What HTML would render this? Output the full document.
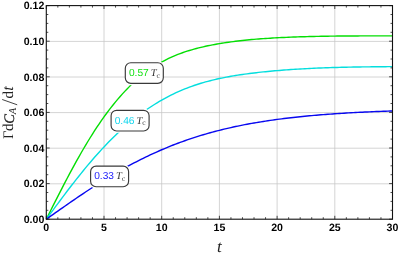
<!DOCTYPE html>
<html><head><meta charset="utf-8"><style>html,body{margin:0;padding:0;background:#fff;}body{width:399px;height:258px;overflow:hidden;}svg{display:block;will-change:transform;opacity:0.999;}text{font-family:"Liberation Sans",sans-serif;text-rendering:geometricPrecision;}.s{font-family:"Liberation Serif",serif;}</style></head><body>
<svg width="399" height="258" viewBox="0 0 399 258">
<rect width="399" height="258" fill="#fff"/>
<path d="M104.00 5.6V219.2M161.70 5.6V219.2M219.40 5.6V219.2M277.10 5.6V219.2M334.80 5.6V219.2M46.3 183.80H392.5M46.3 148.20H392.5M46.3 112.60H392.5M46.3 77.00H392.5M46.3 41.40H392.5" stroke="#c6c6c6" stroke-width="0.75" fill="none"/>
<defs><mask id="m" maskUnits="userSpaceOnUse" x="0" y="0" width="399" height="258"><rect width="399" height="258" fill="#fff"/><rect x="125.30" y="62.75" width="38" height="20.6" rx="5.5" ry="5.5" fill="#000" stroke="#000" stroke-width="3.6"/><rect x="111.10" y="110.35" width="38" height="20.6" rx="5.5" ry="5.5" fill="#000" stroke="#000" stroke-width="3.6"/><rect x="90.60" y="166.15" width="38" height="20.6" rx="5.5" ry="5.5" fill="#000" stroke="#000" stroke-width="3.6"/></mask></defs><g mask="url(#m)">
<polyline points="46.30,219.20 48.61,214.60 50.92,210.01 53.22,205.43 55.53,200.87 57.84,196.33 60.15,191.81 62.46,187.33 64.76,182.89 67.07,178.49 69.38,174.14 71.69,169.84 74.00,165.60 76.30,161.41 78.61,157.29 80.92,153.24 83.23,149.26 85.54,145.35 87.84,141.51 90.15,137.75 92.46,134.08 94.77,130.48 97.08,126.96 99.38,123.53 101.69,120.18 104.00,116.92 106.31,113.74 108.62,110.65 110.92,107.64 113.23,104.72 115.54,101.88 117.85,99.13 120.16,96.46 122.46,93.88 124.77,91.38 127.08,88.96 129.39,86.63 131.70,84.37 134.00,82.20 136.31,80.11 138.62,78.10 140.93,76.16 143.24,74.30 145.54,72.52 147.85,70.80 150.16,69.17 152.47,67.60 154.78,66.10 157.08,64.67 159.39,63.30 161.70,62.00 164.01,60.76 166.32,59.57 168.62,58.45 170.93,57.38 173.24,56.36 175.55,55.39 177.86,54.46 180.16,53.59 182.47,52.75 184.78,51.96 187.09,51.20 189.40,50.48 191.70,49.80 194.01,49.14 196.32,48.52 198.63,47.92 200.94,47.36 203.24,46.81 205.55,46.29 207.86,45.80 210.17,45.32 212.48,44.87 214.78,44.44 217.09,44.02 219.40,43.62 221.71,43.24 224.02,42.88 226.32,42.53 228.63,42.19 230.94,41.87 233.25,41.57 235.56,41.28 237.86,41.00 240.17,40.73 242.48,40.47 244.79,40.23 247.10,40.00 249.40,39.77 251.71,39.56 254.02,39.36 256.33,39.16 258.64,38.98 260.94,38.80 263.25,38.64 265.56,38.48 267.87,38.33 270.18,38.18 272.48,38.04 274.79,37.91 277.10,37.79 279.41,37.67 281.72,37.55 284.02,37.45 286.33,37.34 288.64,37.25 290.95,37.15 293.26,37.06 295.56,36.98 297.87,36.90 300.18,36.82 302.49,36.75 304.80,36.68 307.10,36.62 309.41,36.55 311.72,36.49 314.03,36.44 316.34,36.39 318.64,36.34 320.95,36.30 323.26,36.26 325.57,36.22 327.88,36.18 330.18,36.15 332.49,36.12 334.80,36.09 337.11,36.07 339.42,36.05 341.72,36.02 344.03,36.01 346.34,35.99 348.65,35.97 350.96,35.96 353.26,35.95 355.57,35.93 357.88,35.93 360.19,35.92 362.50,35.91 364.80,35.90 367.11,35.90 369.42,35.90 371.73,35.90 374.04,35.89 376.34,35.89 378.65,35.90 380.96,35.90 383.27,35.90 385.58,35.90 387.88,35.91 390.19,35.91 392.50,35.92" stroke="#04de04" stroke-width="1.4" fill="none" stroke-linejoin="round"/>
<polyline points="46.30,219.20 48.61,216.06 50.92,212.93 53.22,209.81 55.53,206.69 57.84,203.58 60.15,200.48 62.46,197.40 64.76,194.34 67.07,191.29 69.38,188.27 71.69,185.28 74.00,182.31 76.30,179.37 78.61,176.46 80.92,173.58 83.23,170.74 85.54,167.93 87.84,165.16 90.15,162.43 92.46,159.73 94.77,157.08 97.08,154.48 99.38,151.91 101.69,149.39 104.00,146.92 106.31,144.49 108.62,142.11 110.92,139.77 113.23,137.48 115.54,135.24 117.85,133.04 120.16,130.90 122.46,128.80 124.77,126.75 127.08,124.74 129.39,122.78 131.70,120.87 134.00,119.01 136.31,117.19 138.62,115.41 140.93,113.69 143.24,112.01 145.54,110.37 147.85,108.78 150.16,107.23 152.47,105.72 154.78,104.26 157.08,102.84 159.39,101.46 161.70,100.13 164.01,98.83 166.32,97.58 168.62,96.37 170.93,95.19 173.24,94.06 175.55,92.96 177.86,91.91 180.16,90.89 182.47,89.91 184.78,88.96 187.09,88.05 189.40,87.17 191.70,86.33 194.01,85.52 196.32,84.75 198.63,84.00 200.94,83.29 203.24,82.60 205.55,81.95 207.86,81.32 210.17,80.71 212.48,80.14 214.78,79.58 217.09,79.05 219.40,78.55 221.71,78.06 224.02,77.59 226.32,77.14 228.63,76.72 230.94,76.30 233.25,75.91 235.56,75.53 237.86,75.16 240.17,74.81 242.48,74.47 244.79,74.14 247.10,73.83 249.40,73.53 251.71,73.23 254.02,72.95 256.33,72.68 258.64,72.42 260.94,72.17 263.25,71.92 265.56,71.68 267.87,71.46 270.18,71.24 272.48,71.02 274.79,70.82 277.10,70.62 279.41,70.43 281.72,70.24 284.02,70.06 286.33,69.89 288.64,69.73 290.95,69.57 293.26,69.41 295.56,69.26 297.87,69.12 300.18,68.98 302.49,68.85 304.80,68.72 307.10,68.60 309.41,68.48 311.72,68.37 314.03,68.26 316.34,68.16 318.64,68.06 320.95,67.97 323.26,67.88 325.57,67.80 327.88,67.72 330.18,67.64 332.49,67.57 334.80,67.50 337.11,67.44 339.42,67.38 341.72,67.32 344.03,67.26 346.34,67.21 348.65,67.16 350.96,67.12 353.26,67.07 355.57,67.03 357.88,66.99 360.19,66.96 362.50,66.92 364.80,66.89 367.11,66.86 369.42,66.83 371.73,66.81 374.04,66.78 376.34,66.76 378.65,66.74 380.96,66.72 383.27,66.70 385.58,66.69 387.88,66.67 390.19,66.66 392.50,66.65" stroke="#04dede" stroke-width="1.4" fill="none" stroke-linejoin="round"/>
<polyline points="46.30,219.20 48.61,217.57 50.92,215.94 53.22,214.31 55.53,212.68 57.84,211.06 60.15,209.44 62.46,207.82 64.76,206.21 67.07,204.61 69.38,203.01 71.69,201.42 74.00,199.83 76.30,198.25 78.61,196.69 80.92,195.13 83.23,193.58 85.54,192.04 87.84,190.51 90.15,189.00 92.46,187.49 94.77,186.00 97.08,184.52 99.38,183.06 101.69,181.61 104.00,180.17 106.31,178.75 108.62,177.35 110.92,175.95 113.23,174.58 115.54,173.22 117.85,171.88 120.16,170.55 122.46,169.25 124.77,167.95 127.08,166.68 129.39,165.42 131.70,164.19 134.00,162.97 136.31,161.76 138.62,160.58 140.93,159.41 143.24,158.27 145.54,157.14 147.85,156.03 150.16,154.93 152.47,153.86 154.78,152.80 157.08,151.77 159.39,150.75 161.70,149.75 164.01,148.77 166.32,147.80 168.62,146.86 170.93,145.93 173.24,145.02 175.55,144.13 177.86,143.25 180.16,142.39 182.47,141.55 184.78,140.73 187.09,139.93 189.40,139.14 191.70,138.36 194.01,137.61 196.32,136.87 198.63,136.14 200.94,135.44 203.24,134.74 205.55,134.07 207.86,133.40 210.17,132.76 212.48,132.12 214.78,131.51 217.09,130.90 219.40,130.31 221.71,129.74 224.02,129.17 226.32,128.62 228.63,128.09 230.94,127.56 233.25,127.05 235.56,126.55 237.86,126.07 240.17,125.59 242.48,125.13 244.79,124.68 247.10,124.24 249.40,123.81 251.71,123.39 254.02,122.98 256.33,122.58 258.64,122.20 260.94,121.82 263.25,121.45 265.56,121.09 267.87,120.74 270.18,120.40 272.48,120.07 274.79,119.74 277.10,119.43 279.41,119.12 281.72,118.82 284.02,118.53 286.33,118.25 288.64,117.97 290.95,117.71 293.26,117.45 295.56,117.19 297.87,116.94 300.18,116.70 302.49,116.47 304.80,116.24 307.10,116.02 309.41,115.80 311.72,115.59 314.03,115.39 316.34,115.19 318.64,115.00 320.95,114.81 323.26,114.62 325.57,114.45 327.88,114.27 330.18,114.10 332.49,113.94 334.80,113.78 337.11,113.63 339.42,113.48 341.72,113.33 344.03,113.19 346.34,113.05 348.65,112.91 350.96,112.78 353.26,112.66 355.57,112.53 357.88,112.41 360.19,112.30 362.50,112.18 364.80,112.07 367.11,111.96 369.42,111.86 371.73,111.76 374.04,111.66 376.34,111.56 378.65,111.47 380.96,111.38 383.27,111.29 385.58,111.21 387.88,111.12 390.19,111.04 392.50,110.96" stroke="#0808f0" stroke-width="1.4" fill="none" stroke-linejoin="round"/>
</g>
<path d="M46.30 219.2v-3.4M46.30 5.6v3.4M57.84 219.2v-2.0M57.84 5.6v2.0M69.38 219.2v-2.0M69.38 5.6v2.0M80.92 219.2v-2.0M80.92 5.6v2.0M92.46 219.2v-2.0M92.46 5.6v2.0M104.00 219.2v-3.4M104.00 5.6v3.4M115.54 219.2v-2.0M115.54 5.6v2.0M127.08 219.2v-2.0M127.08 5.6v2.0M138.62 219.2v-2.0M138.62 5.6v2.0M150.16 219.2v-2.0M150.16 5.6v2.0M161.70 219.2v-3.4M161.70 5.6v3.4M173.24 219.2v-2.0M173.24 5.6v2.0M184.78 219.2v-2.0M184.78 5.6v2.0M196.32 219.2v-2.0M196.32 5.6v2.0M207.86 219.2v-2.0M207.86 5.6v2.0M219.40 219.2v-3.4M219.40 5.6v3.4M230.94 219.2v-2.0M230.94 5.6v2.0M242.48 219.2v-2.0M242.48 5.6v2.0M254.02 219.2v-2.0M254.02 5.6v2.0M265.56 219.2v-2.0M265.56 5.6v2.0M277.10 219.2v-3.4M277.10 5.6v3.4M288.64 219.2v-2.0M288.64 5.6v2.0M300.18 219.2v-2.0M300.18 5.6v2.0M311.72 219.2v-2.0M311.72 5.6v2.0M323.26 219.2v-2.0M323.26 5.6v2.0M334.80 219.2v-3.4M334.80 5.6v3.4M346.34 219.2v-2.0M346.34 5.6v2.0M357.88 219.2v-2.0M357.88 5.6v2.0M369.42 219.2v-2.0M369.42 5.6v2.0M380.96 219.2v-2.0M380.96 5.6v2.0M392.50 219.2v-3.4M392.50 5.6v3.4M46.3 219.20h3.4M392.5 219.20h-3.4M46.3 210.30h2.0M392.5 210.30h-2.0M46.3 201.40h2.0M392.5 201.40h-2.0M46.3 192.50h2.0M392.5 192.50h-2.0M46.3 183.60h3.4M392.5 183.60h-3.4M46.3 174.70h2.0M392.5 174.70h-2.0M46.3 165.80h2.0M392.5 165.80h-2.0M46.3 156.90h2.0M392.5 156.90h-2.0M46.3 148.00h3.4M392.5 148.00h-3.4M46.3 139.10h2.0M392.5 139.10h-2.0M46.3 130.20h2.0M392.5 130.20h-2.0M46.3 121.30h2.0M392.5 121.30h-2.0M46.3 112.40h3.4M392.5 112.40h-3.4M46.3 103.50h2.0M392.5 103.50h-2.0M46.3 94.60h2.0M392.5 94.60h-2.0M46.3 85.70h2.0M392.5 85.70h-2.0M46.3 76.80h3.4M392.5 76.80h-3.4M46.3 67.90h2.0M392.5 67.90h-2.0M46.3 59.00h2.0M392.5 59.00h-2.0M46.3 50.10h2.0M392.5 50.10h-2.0M46.3 41.20h3.4M392.5 41.20h-3.4M46.3 32.30h2.0M392.5 32.30h-2.0M46.3 23.40h2.0M392.5 23.40h-2.0M46.3 14.50h2.0M392.5 14.50h-2.0M46.3 5.60h3.4M392.5 5.60h-3.4" stroke="#000" stroke-width="0.7" fill="none"/>
<rect x="46.3" y="5.6" width="346.20" height="213.60" fill="none" stroke="#111" stroke-width="1.1"/>
<text x="46.30" y="231.4" font-size="10.6" font-weight="bold" text-anchor="middle" fill="#000">0</text>
<text x="104.00" y="231.4" font-size="10.6" font-weight="bold" text-anchor="middle" fill="#000">5</text>
<text x="161.70" y="231.4" font-size="10.6" font-weight="bold" text-anchor="middle" fill="#000">10</text>
<text x="219.40" y="231.4" font-size="10.6" font-weight="bold" text-anchor="middle" fill="#000">15</text>
<text x="277.10" y="231.4" font-size="10.6" font-weight="bold" text-anchor="middle" fill="#000">20</text>
<text x="334.80" y="231.4" font-size="10.6" font-weight="bold" text-anchor="middle" fill="#000">25</text>
<text x="392.50" y="231.4" font-size="10.6" font-weight="bold" text-anchor="middle" fill="#000">30</text>
<text x="44.3" y="223.00" font-size="10.6" font-weight="bold" text-anchor="end" fill="#000">0.00</text>
<text x="44.3" y="187.40" font-size="10.6" font-weight="bold" text-anchor="end" fill="#000">0.02</text>
<text x="44.3" y="151.80" font-size="10.6" font-weight="bold" text-anchor="end" fill="#000">0.04</text>
<text x="44.3" y="116.20" font-size="10.6" font-weight="bold" text-anchor="end" fill="#000">0.06</text>
<text x="44.3" y="80.60" font-size="10.6" font-weight="bold" text-anchor="end" fill="#000">0.08</text>
<text x="44.3" y="45.00" font-size="10.6" font-weight="bold" text-anchor="end" fill="#000">0.10</text>
<text x="44.3" y="9.40" font-size="10.6" font-weight="bold" text-anchor="end" fill="#000">0.12</text>
<text class="s" x="219.3" y="251.6" font-size="17" font-style="italic" text-anchor="middle" fill="#222">t</text>
<g transform="translate(13.2,138.9) rotate(-90)" fill="#222" class="s"><text class="s" x="0" y="0" font-size="14.5">&#915;</text><text class="s" x="8.0" y="0" font-size="15">d</text><text class="s" x="15.2" y="0.3" font-size="14.5" font-style="italic" stroke="#222" stroke-width="0.25">C</text><text class="s" x="24.7" y="2.7" font-size="10.5" font-style="italic">A</text><path d="M34.1 4.0L39.4 -11.0" stroke="#222" stroke-width="0.85" fill="none"/><text class="s" x="40.5" y="0" font-size="15">d</text><text class="s" x="48.2" y="0" font-size="16" font-style="italic">t</text></g>
<rect x="125.30" y="62.75" width="38" height="20.6" rx="5.5" ry="5.5" fill="#fff" stroke="#3a3a3a" stroke-width="1.15"/>
<text x="128.90" y="75.95" font-size="10.2" fill="#12e212">0.57</text>
<text class="s" x="150.80" y="75.95" font-size="10.5" font-style="italic" fill="#333">T<tspan font-size="7.5" dy="1.7" dx="-0.2" font-style="normal">c</tspan></text>
<rect x="111.10" y="110.35" width="38" height="20.6" rx="5.5" ry="5.5" fill="#fff" stroke="#3a3a3a" stroke-width="1.15"/>
<text x="114.70" y="123.55" font-size="10.2" fill="#10d6ee">0.46</text>
<text class="s" x="136.60" y="123.55" font-size="10.5" font-style="italic" fill="#333">T<tspan font-size="7.5" dy="1.7" dx="-0.2" font-style="normal">c</tspan></text>
<rect x="90.60" y="166.15" width="38" height="20.6" rx="5.5" ry="5.5" fill="#fff" stroke="#3a3a3a" stroke-width="1.15"/>
<text x="94.20" y="179.35" font-size="10.2" fill="#2222fa">0.33</text>
<text class="s" x="116.10" y="179.35" font-size="10.5" font-style="italic" fill="#333">T<tspan font-size="7.5" dy="1.7" dx="-0.2" font-style="normal">c</tspan></text>
</svg></body></html>
